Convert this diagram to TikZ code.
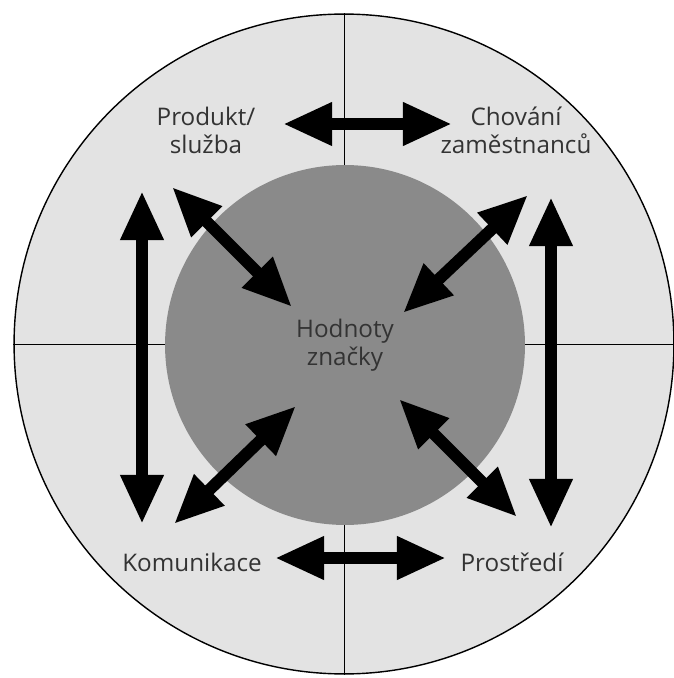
\documentclass[tikz,border=0pt]{standalone}
\usepackage{fontspec}
\setmainfont{Open Sans}
\usetikzlibrary{arrows.meta}
\definecolor{ringgray}{gray}{0.89}
\definecolor{coregray}{gray}{0.54}
\definecolor{labgray}{gray}{0.2}
\begin{document}
\begin{tikzpicture}[x=0.02cm, y=-0.02cm, font=\fontsize{13.8}{15.9}\selectfont,
  link/.style={{Triangle[length=28pt,width=23pt]}-{Triangle[length=28pt,width=23pt]}, line width=6.8pt},
  lab/.style={text=labgray, align=center, inner sep=1pt}]
  \useasboundingbox (0,0) rectangle (673,678);
  \fill[white] (0,0) rectangle (673,678);
  % ring and cross
  \node[circle, draw, line width=0.8pt, fill=ringgray, minimum size=13.2cm, inner sep=0pt] (ring) at (344,344) {};
  \draw[line width=0.5pt] (ring.west) -- (ring.east) (ring.north) -- (ring.south);
  \node[circle, fill=coregray, minimum size=7.2cm, inner sep=0pt, lab] (core) at (345,345) {Hodnoty\\značky};
  % four labels
  \node[lab] (prod) at (206,130) {Produkt/\\služba};
  \node[lab] (chov) at (516,130) {Chování\\zaměstnanců};
  \node[lab] (komu) at (192,562) {Komunikace};
  \node[lab] (pros) at (512,562) {Prostředí};
  % arrow ends
  \coordinate (t1) at (283,124); \coordinate (t2) at (452,124);
  \coordinate (b1) at (275,558); \coordinate (b2) at (446,558);
  \coordinate (l1) at (142,191); \coordinate (l2) at (142,524);
  \coordinate (r1) at (551,197); \coordinate (r2) at (551,528);
  \coordinate (pc1) at (172,187); \coordinate (pc2) at (292,307);
  \coordinate (cc1) at (528,195); \coordinate (cc2) at (403,313);
  \coordinate (kc1) at (174,524); \coordinate (kc2) at (296,406);
  \coordinate (sc1) at (517,517); \coordinate (sc2) at (399,399);
  \foreach \a/\b in {t1/t2, b1/b2, l1/l2, r1/r2, pc1/pc2, cc1/cc2, kc1/kc2, sc1/sc2}
    \draw[link] (\a) -- (\b);
\end{tikzpicture}
\end{document}
